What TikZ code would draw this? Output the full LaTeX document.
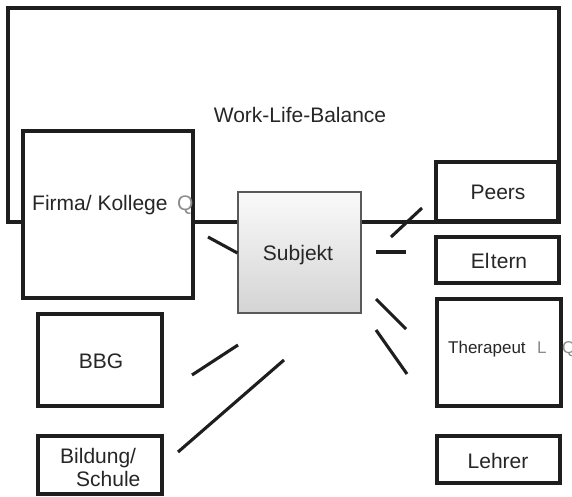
\documentclass[tikz,border=0pt]{standalone}
\usepackage{fontspec}
\newfontfamily\lblfont{Liberation Sans}
\definecolor{txt}{HTML}{262626}
\definecolor{faint}{HTML}{8C8C8C}
\definecolor{edge}{HTML}{1E1E1E}
\begin{document}
\begin{tikzpicture}[x=1pt,y=-1pt,
  box/.style={draw=edge, line width=3.1pt, fill=white, inner sep=0pt},
  lbl/.style={inner sep=0pt, text=txt, font=\lblfont\fontsize{21}{25}\selectfont},
  small/.style={inner sep=0pt, text=txt, font=\lblfont\fontsize{17}{20}\selectfont},
  link/.style={draw=edge, line width=3.1pt},
  subj/.style={draw=black!65, line width=1.2pt, inner sep=0pt,
    top color=black!2, bottom color=black!17}]
\useasboundingbox (0,0) rectangle (572,497);

% outer frame
\draw[draw=edge, line width=3.1pt] (8,8) rectangle (559,222);
\node[lbl, anchor=base] (wlb) at (300,123) {Work-Life-Balance};

% boxes
\node[box, minimum width=170pt, minimum height=167pt] (firma) at (108,214.5) {};
\node[box, minimum width=122pt, minimum height=59pt] (peers) at (497,191.5) {};
\node[box, minimum width=123pt, minimum height=46pt] (eltern) at (497.5,260) {};
\node[box, minimum width=124pt, minimum height=107pt] (thera) at (499,352.5) {};
\node[box, minimum width=123pt, minimum height=47pt] (lehrer) at (498.5,459.5) {};
\node[box, minimum width=124pt, minimum height=92pt] (bbg) at (100,360) {};
\node[box, minimum width=124pt, minimum height=58pt] (bildung) at (100,465) {};
\node[subj, minimum width=123pt, minimum height=121pt] (subjekt) at (299.5,252.5) {};

% labels
\node[lbl, anchor=base west] (firmaT) at (32,210) {Firma/ Kollege};
\node[lbl, anchor=base west, text=faint] (firmaQ) at (177,210) {Q};
\node[lbl, anchor=base] (peersT) at (498,199) {Peers};
\node[lbl, anchor=base] (elternT) at (499,268) {El\kern1.5pt tern};
\node[small, anchor=base west] (theraT) at (448,353) {Therapeut};
\node[small, anchor=base west, text=faint] (theraL) at (537,353) {L};
\node[small, anchor=base west, text=faint] (theraQ) at (562,353) {Q};
\node[lbl, anchor=base] (lehrerT) at (498,468) {Lehrer};
\node[lbl, anchor=base] (bbgT) at (101,368) {BBG};
\node[lbl, anchor=base west] (bild1) at (60,463) {Bildung/};
\node[lbl, anchor=base west] (bild2) at (76,486) {Schule};
\node[lbl, anchor=base] (subjT) at (298,260) {Subjekt};

% loose connector strokes around the subject
\coordinate (f1) at (208,237);
\coordinate (f2) at (subjekt.west |- 0,253);
\coordinate (p1) at (391,237);
\coordinate (p2) at (422,208);
\coordinate (e1) at (376,252);
\coordinate (e2) at (406,252);
\coordinate (t1) at (376,299);
\coordinate (t2) at (406,329);
\coordinate (t3) at (376,330);
\coordinate (t4) at (407,374);
\coordinate (b1) at (192,375);
\coordinate (b2) at (238,345);
\coordinate (s1) at (178,452);
\coordinate (s2) at (284,360);
\draw[link] (f1) -- (f2);
\draw[link] (p1) -- (p2);
\draw[link] (e1) -- (e2);
\draw[link] (t1) -- (t2);
\draw[link] (t3) -- (t4);
\draw[link] (b1) -- (b2);
\draw[link] (s1) -- (s2);
\end{tikzpicture}
\end{document}
